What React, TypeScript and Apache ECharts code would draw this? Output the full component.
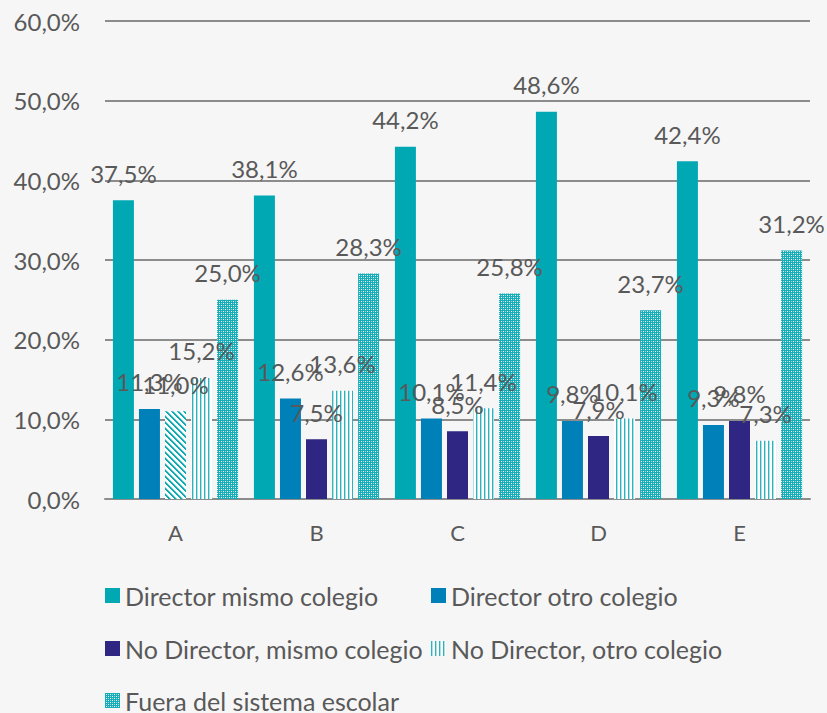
import React, { useEffect, useRef } from "react";
import * as echarts from "echarts";

const categories = ["A", "B", "C", "D", "E"];
const seriesNames = [
  "Director mismo colegio",
  "Director otro colegio",
  "No Director, mismo colegio",
  "No Director, otro colegio",
  "Fuera del sistema escolar",
];
const directorMismo = [37.5, 38.1, 44.2, 48.6, 42.4];
const directorOtro = [11.3, 12.6, 10.1, 9.8, 9.3];
const noDirectorMismo = [11.0, 7.5, 8.5, 7.9, 9.8];
const noDirectorOtro = [15.2, 13.6, 11.4, 10.1, 7.3];
const fuera = [25.0, 28.3, 25.8, 23.7, 31.2];
const yTicks = [0, 10, 20, 30, 40, 50, 60];

const TEAL = "#00A8B4";
const BLUE = "#0080B9";
const NAVY = "#2E2682";
const TXT = "#595959";
const FONT = "Lato, 'Open Sans', sans-serif";

function makeTile(w: number, h: number, draw: (ctx: CanvasRenderingContext2D) => void) {
  const c = document.createElement("canvas");
  c.width = w;
  c.height = h;
  const ctx = c.getContext("2d")!;
  draw(ctx);
  return { image: c, repeat: "repeat", imageWidth: w, imageHeight: h } as any;
}

export default function App() {
  const ref = useRef<HTMLDivElement>(null);
  useEffect(() => {
    document.body.style.margin = "0";
    const chart = echarts.init(ref.current!, null, { renderer: "svg" });

    const stripes = makeTile(4, 4, (ctx) => {
      ctx.fillStyle = "#ffffff";
      ctx.fillRect(0, 0, 4, 4);
      ctx.fillStyle = "#2DB3BD";
      ctx.fillRect(0, 0, 1.4, 4);
    });
    const checker = makeTile(4, 4, (ctx) => {
      ctx.fillStyle = "#14ADB8";
      ctx.fillRect(0, 0, 4, 4);
      ctx.fillStyle = "#ffffff";
      ctx.fillRect(1, 1, 1, 1);
      ctx.fillRect(3, 3, 1, 1);
      ctx.fillStyle = "#9AD9DE";
      ctx.fillRect(1, 3, 1, 1);
      ctx.fillRect(3, 1, 1, 1);
    });
    const diag = makeTile(6, 6, (ctx) => {
      ctx.fillStyle = "#ffffff";
      ctx.fillRect(0, 0, 6, 6);
      ctx.fillStyle = "#10AAB5";
      for (let y = 0; y < 6; y++) {
        for (let k = -1; k <= 1; k++) {
          const x0 = y + k * 6;
          ctx.fillRect(x0, y, 2.5, 1);
        }
      }
    });

    const label = {
      show: true,
      position: "top",
      distance: 15,
      color: TXT,
      fontSize: 24,
      fontFamily: FONT,
      formatter: (p: any) => p.value.toFixed(1).replace(".", ",") + "%",
    };

    const datasets = [directorMismo, directorOtro, noDirectorMismo, noDirectorOtro, fuera];
    const colors: any[] = [TEAL, BLUE, NAVY, stripes, checker];

    const series = datasets.map((d, i) => ({
      name: seriesNames[i],
      type: "bar",
      barWidth: 21,
      barGap: "24%",
      itemStyle: { color: colors[i] },
      label,
      data: d.map((v, j) =>
        i === 2 && j === 0 ? { value: v, itemStyle: { color: diag } } : v
      ),
    }));

    const legendText = { color: TXT, fontSize: 25, fontFamily: FONT, lineHeight: 24 };
    const legendPos = [
      [105, 583],
      [431, 583],
      [105, 636],
      [431, 636],
      [105, 688],
    ];
    const legend = seriesNames.map((n, i) => ({
      left: legendPos[i][0],
      top: legendPos[i][1],
      padding: 0,
      itemWidth: 15,
      itemHeight: 15,
      icon: "rect",
      textStyle: legendText,
      data: [n],
    }));

    chart.setOption({
      animation: false,
      backgroundColor: "#f6f6f6",
      textStyle: { fontFamily: FONT },
      grid: { left: 105, right: 17, top: 21, bottom: 214, containLabel: false },
      legend,
      xAxis: {
        type: "category",
        data: categories,
        axisTick: { show: false },
        axisLine: { lineStyle: { color: "#8c8c8c", width: 2 } },
        axisLabel: { color: TXT, fontSize: 22, fontFamily: FONT, margin: 22 },
      },
      yAxis: {
        type: "value",
        min: yTicks[0],
        max: yTicks[yTicks.length - 1],
        interval: 10,
        axisLine: { show: false },
        axisTick: { show: false },
        splitLine: { lineStyle: { color: "#8c8c8c", width: 2 } },
        axisLabel: {
          color: TXT,
          fontSize: 24,
          fontFamily: FONT,
          margin: 25,
          formatter: (v: number) => v.toFixed(1).replace(".", ",") + "%",
        },
      },
      series,
    });
    return () => chart.dispose();
  }, []);
  return <div ref={ref} style={{ width: 827, height: 713 }} />;
}
